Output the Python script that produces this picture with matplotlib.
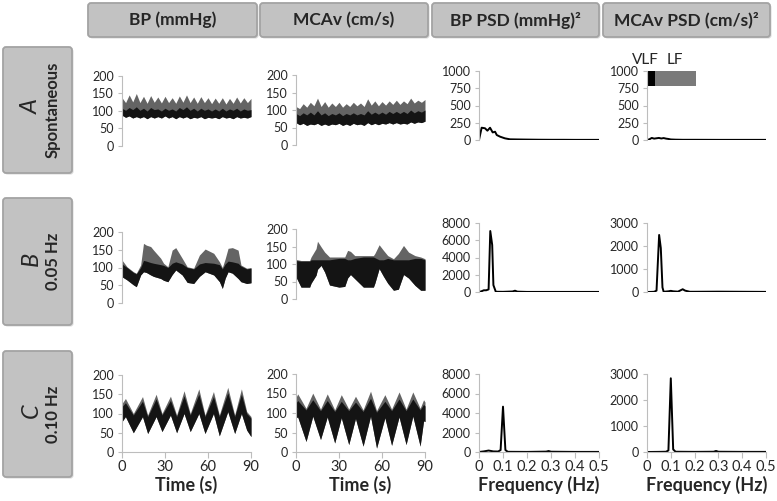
import numpy as np
import matplotlib
matplotlib.use("Agg")
import matplotlib.pyplot as plt
from matplotlib.patches import FancyBboxPatch

plt.rcParams["font.family"] = ["Lato", "DejaVu Sans"]

# ---- data ----
headers = ["BP (mmHg)", "MCAv (cm/s)", "BP PSD (mmHg)²", "MCAv PSD (cm/s)²"]
row_letters = ["A", "B", "C"]
row_names = ["Spontaneous", "0.05 Hz", "0.10 Hz"]

# row A, 2.5 s sampling
t_a = np.arange(0, 92.5, 2.5)
bp_a_up = [138, 124, 146, 126, 150, 124, 142, 122, 144, 125, 140, 123, 142, 124, 138, 122, 143, 125, 146,
           124, 140, 122, 141, 124, 138, 121, 137, 122, 138, 120, 136, 122, 140, 123, 138, 124, 136]
bp_a_mid = [108, 102, 110, 104, 112, 102, 108, 100, 110, 104, 106, 100, 108, 102, 106, 100, 110, 104, 112,
            102, 108, 100, 108, 102, 106, 100, 106, 100, 108, 100, 106, 102, 108, 100, 106, 102, 104]
bp_a_lo = [88, 82, 86, 80, 84, 80, 84, 78, 84, 80, 84, 80, 86, 80, 84, 78, 84, 80, 84,
           78, 82, 80, 84, 78, 82, 80, 82, 78, 84, 80, 82, 78, 84, 80, 82, 80, 84]
mca_a_up = [110, 104, 118, 108, 122, 112, 134, 110, 124, 108, 120, 110, 122, 108, 118, 110, 122, 112, 120,
            110, 132, 114, 126, 112, 124, 114, 126, 116, 128, 116, 126, 118, 134, 120, 128, 122, 130]
mca_a_mid = [90, 84, 92, 86, 94, 86, 98, 86, 92, 84, 90, 86, 92, 84, 90, 86, 92, 86, 90,
             86, 98, 88, 94, 88, 94, 88, 96, 90, 96, 90, 96, 90, 100, 92, 98, 94, 100]
mca_a_lo = [64, 58, 62, 56, 60, 58, 62, 56, 60, 56, 60, 58, 62, 56, 60, 56, 62, 58, 60,
            56, 64, 58, 62, 58, 62, 60, 64, 60, 64, 60, 62, 60, 66, 62, 66, 64, 68]

# row B
t_bp_b = [0, 3.5, 8, 10, 13, 15, 17, 20, 22, 27, 29, 32, 35, 37.5, 42, 45.5, 50, 54, 58, 64,
          68, 70, 72, 74, 77, 81, 83, 87, 90]
bp_b_up = [121, 102, 88, 84, 107, 168, 163, 159, 149, 126, 112, 102, 149, 156, 126, 102, 98, 135, 152, 140,
           116, 100, 125, 154, 156, 149, 107, 98, 100]
bp_b_mid = [110, 100, 86, 82, 100, 120, 118, 114, 112, 108, 106, 100, 112, 116, 110, 100, 96, 110, 114, 112,
            108, 96, 110, 118, 116, 112, 104, 96, 98]
bp_b_lo = [74, 65, 51, 46, 79, 88, 86, 79, 75, 69, 64, 60, 80, 93, 79, 58, 55, 75, 88, 79,
           60, 41, 70, 88, 84, 69, 60, 55, 57]
t_mca_b = [0, 3.5, 9.5, 10.5, 14, 15, 17.5, 20, 23.4, 30, 34, 36, 38, 41, 47, 54, 55, 58, 61, 64,
           68, 71.4, 75, 78.5, 83, 87, 90]
mca_b_up = [113, 110, 110, 120, 144, 165, 149, 134, 120, 120, 120, 139, 136, 124, 124, 124, 130, 155, 139, 124,
            115, 130, 153, 134, 124, 120, 115]
mca_b_mid = [110, 108, 108, 112, 112, 112, 112, 112, 112, 116, 116, 112, 112, 116, 120, 120, 118, 112, 112, 116,
             112, 112, 112, 112, 116, 116, 112]
mca_b_lo = [63, 34, 34, 45, 68, 85, 96, 77, 40, 34, 36, 60, 70, 58, 34, 34, 45, 87, 65, 45,
            25, 28, 70, 60, 39, 25, 25]

# row C
t_bp_c = [0, 2.4, 7.9, 14.3, 17.9, 23.8, 27.9, 33.8, 38.1, 43.3, 47.6, 53.6, 57.9, 63.8, 67.9,
          73.8, 78.6, 83.3, 87, 90]
bp_c_up = [126, 139, 100, 144, 96, 150, 100, 145, 96, 159, 100, 164, 96, 157, 96, 168, 96, 164, 105, 92]
bp_c_mid = [118, 128, 96, 132, 92, 138, 96, 134, 92, 146, 96, 150, 92, 144, 92, 154, 92, 150, 100, 88]
bp_c_lo = [79, 92, 50, 92, 48, 92, 53, 96, 50, 100, 53, 100, 48, 100, 42, 105, 48, 100, 57, 40]
t_mca_c = [0, 1.2, 7, 11.7, 17.1, 21.8, 27, 31.6, 36.8, 41.5, 46.8, 52, 56.2, 62, 66.7,
           71.9, 76.8, 81.5, 86.6, 89, 90]
mca_c_up = [140, 149, 112, 151, 110, 149, 108, 147, 110, 143, 108, 156, 106, 147, 110, 154, 110, 154, 112, 134, 128]
mca_c_mid = [126, 132, 108, 134, 106, 132, 104, 130, 106, 128, 104, 138, 102, 130, 106, 136, 106, 136, 108, 122, 118]
mca_c_lo = [88, 90, 27, 92, 32, 90, 23, 88, 19, 86, 15, 92, 10, 88, 17, 90, 19, 92, 15, 80, 78]

# power spectra
f_bp_a = [0, 0.011, 0.025, 0.035, 0.046, 0.057, 0.067, 0.074, 0.088, 0.108, 0.129, 0.16, 0.2, 0.25, 0.3,
          0.35, 0.4, 0.45, 0.5]
p_bp_a = [0, 178, 170, 135, 178, 110, 120, 72, 48, 24, 10, 8, 6, 4, 3, 3, 2, 2, 2]
f_mca_a = [0, 0.01, 0.02, 0.03, 0.04, 0.05, 0.06, 0.07, 0.08, 0.09, 0.1, 0.12, 0.15, 0.2, 0.3, 0.4, 0.5]
p_mca_a = [0, 10, 30, 20, 25, 30, 22, 28, 20, 15, 8, 5, 3, 3, 2, 2, 2]
f_bp_b = [0, 0.01, 0.02, 0.03, 0.04, 0.047, 0.055, 0.06, 0.07, 0.1, 0.14, 0.15, 0.16, 0.2, 0.3, 0.4, 0.5]
p_bp_b = [0, 80, 200, 200, 300, 7070, 5450, 800, 30, 20, 60, 150, 40, 10, 10, 10, 10]
f_mca_b = [0, 0.02, 0.03, 0.04, 0.051, 0.058, 0.065, 0.07, 0.09, 0.1, 0.11, 0.13, 0.15, 0.16, 0.18, 0.2,
           0.3, 0.4, 0.5]
p_mca_b = [0, 5, 10, 60, 2480, 1910, 200, 10, 30, 50, 30, 15, 120, 60, 10, 10, 15, 10, 5]
f_bp_c = [0, 0.02, 0.04, 0.06, 0.08, 0.09, 0.1, 0.11, 0.12, 0.2, 0.28, 0.29, 0.3, 0.4, 0.5]
p_bp_c = [0, 60, 150, 60, 50, 200, 4650, 200, 20, 10, 40, 100, 30, 10, 10]
f_mca_c = [0, 0.05, 0.08, 0.09, 0.1, 0.11, 0.12, 0.2, 0.28, 0.29, 0.3, 0.4, 0.5]
p_mca_c = [0, 5, 10, 60, 2835, 100, 10, 5, 10, 40, 10, 5, 5]

band_edges = [0.004, 0.032, 0.206]   # VLF / LF bar
band_names = ["VLF", "LF"]

time_ticks = [0, 30, 60, 90]
freq_ticks = [0, 0.1, 0.2, 0.3, 0.4, 0.5]
freq_labels = ["0", "0.1", "0.2", "0.3", "0.4", "0.5"]

# ---- layout (pixels) ----
W, H = 777, 501
fig = plt.figure(figsize=(W / 100, H / 100), dpi=100)
bg = fig.add_axes([0, 0, 1, 1], zorder=0)
bg.set_xlim(0, W)
bg.set_ylim(H, 0)
bg.axis("off")

BOX_FC = "#c2c2c2"
BOX_EC = "#a3a3a3"
AX_GRAY = "#bdbdbd"
TXT = "#262626"


def box(x0, y0, x1, y1):
    bg.add_patch(FancyBboxPatch((x0 + 1.5, y0 + 1.5), x1 - x0, y1 - y0,
                                boxstyle="round,pad=0,rounding_size=3", fc="#d8d8d8", ec="none"))
    bg.add_patch(FancyBboxPatch((x0, y0), x1 - x0, y1 - y0,
                                boxstyle="round,pad=0,rounding_size=3", fc=BOX_FC, ec=BOX_EC, lw=1.3))


head_x = [(88, 257), (260, 428), (432, 599), (603, 770)]
for (x0, x1), name in zip(head_x, headers):
    box(x0, 3, x1, 37)
    bg.text((x0 + x1) / 2, 20, name, ha="center", va="center", fontsize=12.5,
            fontweight="bold", color=TXT)

row_y = [(47, 173), (198, 325), (351, 477)]
for (y0, y1), let, name in zip(row_y, row_letters, row_names):
    box(3, y0, 72, y1)
    yc = (y0 + y1) / 2
    bg.text(31, yc - 3, let, ha="center", va="center", rotation=90, fontsize=17,
            fontstyle="italic", color=TXT)
    bg.text(53, yc, name, ha="center", va="center", rotation=90, fontsize=12,
            fontweight="bold", color=TXT)


def px_axes(x0, y0, x1, y1):
    return fig.add_axes([x0 / W, 1 - y1 / H, (x1 - x0) / W, (y1 - y0) / H], zorder=2)


def style(ax, bottom):
    ax.patch.set_alpha(0)
    for s in ["top", "right"]:
        ax.spines[s].set_visible(False)
    ax.spines["left"].set_color(AX_GRAY)
    ax.spines["bottom"].set_color(AX_GRAY)
    ax.spines["bottom"].set_visible(bottom)
    ax.tick_params(axis="y", length=3, width=0.8, color=AX_GRAY, labelsize=9,
                   labelcolor=TXT, pad=3)
    ax.tick_params(axis="x", length=4, width=0.8, color=AX_GRAY, labelsize=10.5,
                   labelcolor=TXT, pad=2, bottom=bottom, labelbottom=bottom)


col_x = [(122, 251), (296, 425), (479, 599), (647, 766)]
row_axes = [
    [(76, 146), (75, 145), (71, 140), (71, 140)],
    [(232, 303), (229, 299), (223, 292), (223, 292)],
    [(375, 452), (374, 452), (374, 452), (374, 452)],
]

waves = [
    [(t_a, bp_a_lo, bp_a_mid, bp_a_up), (t_a, mca_a_lo, mca_a_mid, mca_a_up)],
    [(t_bp_b, bp_b_lo, bp_b_mid, bp_b_up), (t_mca_b, mca_b_lo, mca_b_mid, mca_b_up)],
    [(t_bp_c, bp_c_lo, bp_c_mid, bp_c_up), (t_mca_c, mca_c_lo, mca_c_mid, mca_c_up)],
]
spectra = [
    [(f_bp_a, p_bp_a, 1000, 250), (f_mca_a, p_mca_a, 1000, 250)],
    [(f_bp_b, p_bp_b, 8000, 2000), (f_mca_b, p_mca_b, 3000, 1000)],
    [(f_bp_c, p_bp_c, 8000, 2000), (f_mca_c, p_mca_c, 3000, 1000)],
]

for r in range(3):
    last = r == 2
    for c in range(4):
        y0, y1 = row_axes[r][c]
        x0, x1 = col_x[c]
        ax = px_axes(x0, y0, x1, y1)
        style(ax, last)
        if c < 2:
            t, lo, mid, up = waves[r][c]
            ax.fill_between(t, lo, up, color="#646464", lw=0)
            ax.fill_between(t, lo, mid, color="#141414", lw=0)
            ax.set_xlim(0, 90)
            ax.set_ylim(0, 200)
            ax.set_yticks([0, 50, 100, 150, 200])
            ax.set_xticks(time_ticks)
            if last:
                ax.set_xlabel("Time (s)", fontsize=13, fontweight="bold", color=TXT, labelpad=1)
        else:
            f, p, top, step = spectra[r][c - 2]
            ax.plot(f, p, color="black", lw=1.4, solid_joinstyle="round")
            ax.set_xlim(0, 0.5)
            ax.set_ylim(0, top)
            ax.set_yticks(np.arange(0, top + 1, step))
            ax.set_xticks(freq_ticks)
            ax.set_xticklabels(freq_labels)
            if last:
                ax.set_xlabel("Frequency (Hz)", fontsize=13, fontweight="bold", color=TXT, labelpad=1)
            if r == 0 and c == 3:
                ax.fill_between(band_edges[:2], 780, 1000, color="black", lw=0)
                ax.fill_between(band_edges[1:], 780, 1000, color="#7a7a7a", lw=0)
                ax.text(-0.008, 1060, band_names[0], ha="center", va="bottom", fontsize=11,
                        color=TXT, clip_on=False)
                ax.text(0.117, 1060, band_names[1], ha="center", va="bottom", fontsize=11,
                        color=TXT, clip_on=False)

fig.savefig("out.png", dpi=100)
